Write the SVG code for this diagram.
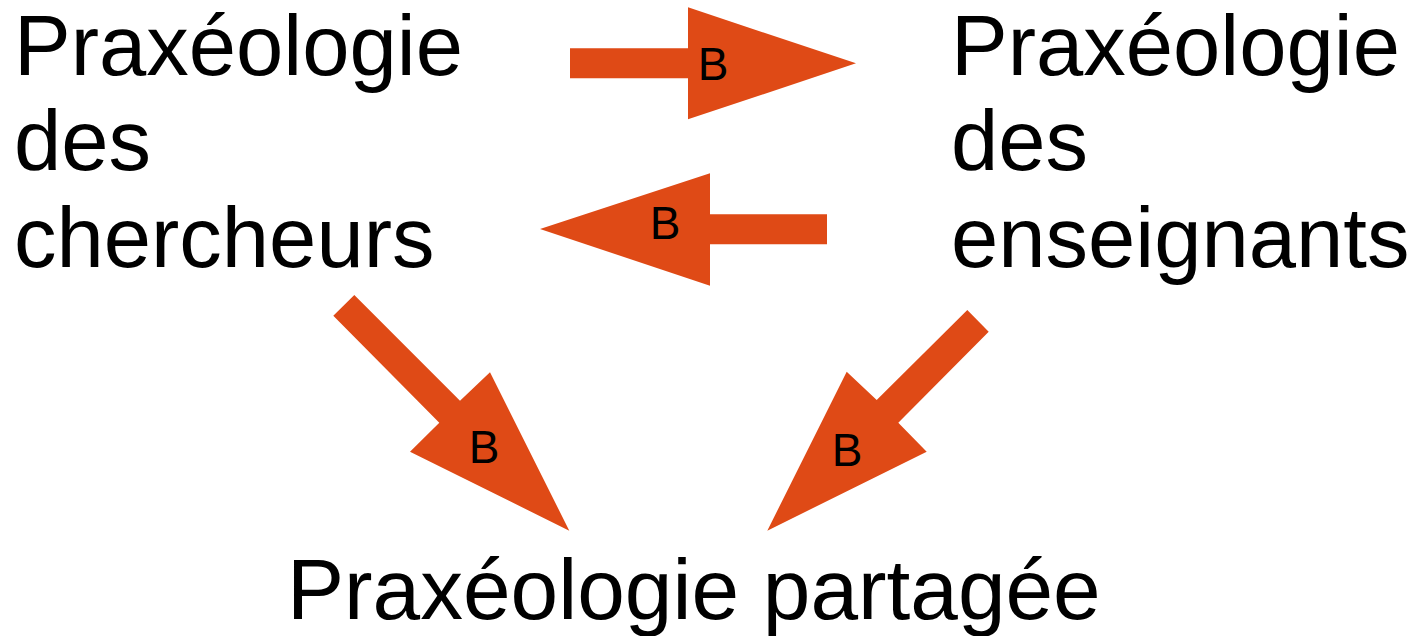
<svg xmlns="http://www.w3.org/2000/svg" width="1420" height="636" viewBox="0 0 1420 636">
<style>
.t{font-family:"Liberation Sans",Arial,sans-serif;font-size:85px;fill:#000}
.b{font-family:"Liberation Sans",Arial,sans-serif;font-size:46px;fill:#000;text-anchor:middle}
.a{fill:#DF4A16}
</style>
<rect width="1420" height="636" fill="#fff"/>
<g id="connectors">
<g id="arrow1"><polygon class="a" points="570,48.3 688,48.3 688,7.3 856,63.3 688,119.3 688,78.3 570,78.3"/><text class="b" x="713" y="80">B</text></g>
<g id="arrow2"><polygon class="a" points="827,214.3 710,214.3 710,173.3 540,229 710,285.7 710,244.3 827,244.3"/><text class="b" x="665" y="239">B</text></g>
<g id="arrow3"><polygon class="a" points="333.3,315.7 354.3,295 460,400.7 490,372.3 569.3,530.7 410,451.7 439.3,422.7"/><text class="b" x="484" y="463">B</text></g>
<g id="arrow4"><polygon class="a" points="967.3,310 988.7,331.7 898.3,422.7 926.7,451.7 767.3,530.7 846.7,371.7 876.7,400"/><text class="b" x="847" y="466">B</text></g>
</g>
<g id="node-chercheurs"><text class="t" x="14" y="75">Praxéologie</text><text class="t" x="14" y="170">des</text><text class="t" x="14" y="267">chercheurs</text></g>
<g id="node-enseignants"><text class="t" x="951" y="75">Praxéologie</text><text class="t" x="951" y="170">des</text><text class="t" x="951" y="267">enseignants</text></g>
<g id="node-partagee"><text class="t" x="287" y="619" style="font-size:85.6px">Praxéologie partagée</text></g>
</svg>
